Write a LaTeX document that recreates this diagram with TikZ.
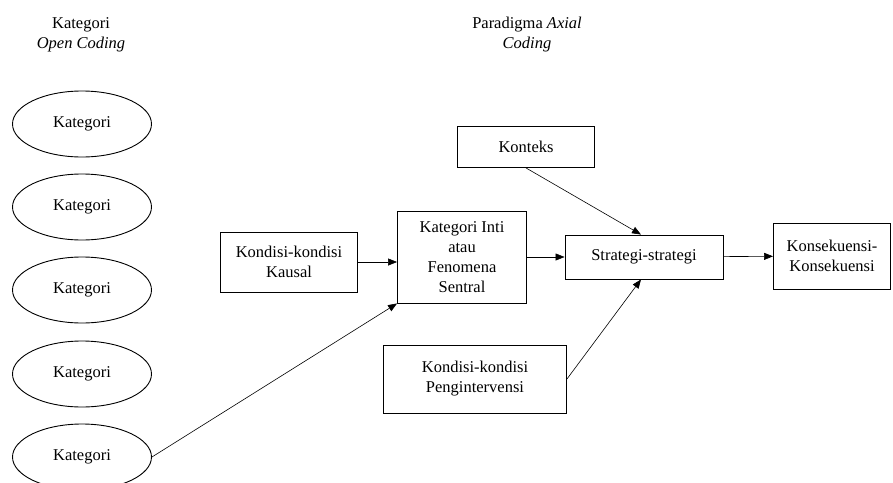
\documentclass[tikz,border=0pt]{standalone}
\usepackage{fontspec}
\setmainfont{Liberation Serif}
\usetikzlibrary{shapes.geometric,arrows.meta}
\begin{document}
\begin{tikzpicture}[x=1pt,y=-1pt,font=\fontsize{16.5}{20}\selectfont]
          \tikzstyle{kat}=[draw,line width=0.9pt,shape=ellipse,inner sep=0pt,minimum width=139pt,minimum height=66pt];
          \tikzstyle{kotak}=[draw,line width=0.9pt,shape=rectangle,align=center,inner sep=0pt];
          \tikzstyle{panah}=[-{Triangle[length=9pt,width=7pt]},line width=0.6pt];
          \useasboundingbox (0,0) rectangle (893,482);
          %judul
          \node[align=center] (judul1) at (81,35) {Kategori\\\textit{Open Coding}};
          \node[align=center] (judul2) at (527,35) {Paradigma \textit{Axial}\\\textit{Coding}};
          %kategori open coding
          \node[kat] (1) at (82,124) {Kategori};
          \node[kat] (2) at (82,207) {Kategori};
          \node[kat] (3) at (82,290) {Kategori};
          \node[kat] (4) at (82,374) {Kategori};
          \node[kat] (5) at (82,457) {Kategori};
          %paradigma
          \node[kotak,minimum width=137pt,minimum height=41pt] (konteks) at (526,147) {Konteks};
          \node[kotak,minimum width=137pt,minimum height=60pt] (kausal) at (289,262) {Kondisi-kondisi\\Kausal};
          \node[kotak,minimum width=129pt,minimum height=92pt] (inti) at (462,257) {Kategori Inti\\atau\\Fenomena\\Sentral};
          \node[kotak,minimum width=158pt,minimum height=44pt] (strategi) at (644,257) {Strategi-strategi};
          \node[kotak,minimum width=117pt,minimum height=66pt] (konsekuensi) at (832,256) {Konsekuensi-\\Konsekuensi};
          \node[kotak,minimum width=183pt,minimum height=68pt] (intervensi) at (475,379) {Kondisi-kondisi\\Penginterv\-ensi};
          \draw[panah] (kausal)--(kausal-|inti.west);
          \draw[panah] (inti)--(strategi);
          \draw[panah] (strategi)--(konsekuensi);
          \draw[panah] (konteks.south)--([xshift=-3pt]strategi.north);
          \draw[panah] (intervensi.east)--([xshift=-3pt]strategi.south);
          \draw[panah] (5.east)--(inti.south west);
      \end{tikzpicture}
\end{document}
